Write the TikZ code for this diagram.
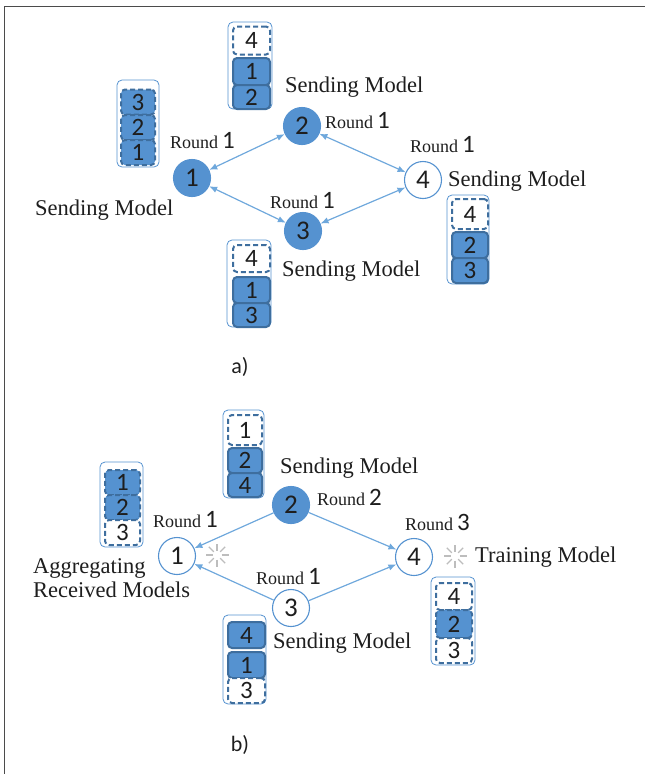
\documentclass[tikz,border=0pt]{standalone}
\usepackage{fontspec}
\setmainfont{Liberation Serif}
\newfontfamily\digitfont{Carlito}
\usetikzlibrary{arrows.meta}
\definecolor{fillblue}{HTML}{5592D0}
\definecolor{boxblue}{HTML}{3E6E9E}
\definecolor{edgeblue}{HTML}{6FA8DC}
\definecolor{ink}{HTML}{1E1E1E}
\definecolor{spark}{HTML}{BDBDBD}
\newcommand\rnd[1]{Round\hspace{4pt}{\digitfont\fontsize{25}{25}\selectfont #1}}
\begin{document}
\begin{tikzpicture}[x=1pt,y=-1pt,
  peer/.style={circle, draw=fillblue, line width=1.1pt, minimum size=37pt, inner sep=0pt,
    font=\digitfont\fontsize{27}{27}\selectfont, text=ink},
  peerfull/.style={peer, fill=fillblue},
  holder/.style={draw=fillblue, line width=0.8pt, rounded corners=5pt, fill=white, inner sep=0pt},
  slot/.style={draw=boxblue, line width=2pt, rounded corners=4pt, inner sep=0pt,
    font=\digitfont\fontsize{25}{25}\selectfont, text=ink},
  slotfull/.style={slot, fill=fillblue},
  slotdash/.style={slot, dash pattern=on 5pt off 3pt, fill=white},
  slotdashfull/.style={slot, dash pattern=on 5pt off 3pt, fill=fillblue},
  caption/.style={font=\fontsize{22.5}{26}\selectfont, text=ink, inner sep=0pt, anchor=base west},
  roundlbl/.style={font=\fontsize{18}{20}\selectfont, text=ink, inner sep=0pt, anchor=base west},
  panel/.style={font=\digitfont\fontsize{22}{22}\selectfont, text=ink},
  link/.style={draw=edgeblue, line width=1.2pt, -{Latex[length=8pt,width=6.5pt]}},
  duplex/.style={link, {Latex[length=8pt,width=6.5pt]}-{Latex[length=8pt,width=6.5pt]}},
  ray/.style={draw=spark, line width=1.3pt}
]
\useasboundingbox (0,0) rectangle (645,774);
% page frame
\draw[ink!80, line width=1pt] (4,774) -- (4,6) -- (645,6);

% ---------------- panel a ----------------
\node[peerfull] (a1) at (192,178) {1};
\node[peerfull] (a2) at (302,126) {2};
\node[peerfull] (a3) at (303,231) {3};
\node[peer]     (a4) at (423,180) {4};

\draw[duplex] (a1) -- (a2);
\draw[duplex] (a2) -- (a4);
\draw[duplex] (a1) -- (a3);
\draw[duplex] (a3) -- (a4);

\node[roundlbl] (ra1) at (170,148) {\rnd{1}};
\node[roundlbl] (ra2) at (325,128) {\rnd{1}};
\node[roundlbl] (ra3) at (270,208) {\rnd{1}};
\node[roundlbl] (ra4) at (410,152) {\rnd{1}};

\node[caption] (sa1) at (35,215) {Sending Model};
\node[caption] (sa2) at (285,92) {Sending Model};
\node[caption] (sa4) at (448,186) {Sending Model};
\node[caption] (sa3) at (282,276) {Sending Model};

% model stacks of panel a
\node[holder, minimum width=42pt, minimum height=87pt] (ha1) at (138,123.5) {};
\node[slotdashfull, minimum width=34pt, minimum height=25pt] (ha1c) at (138,102) {3};
\node[slotdashfull, minimum width=34pt, minimum height=25pt] (ha1b) at (138,127.5) {2};
\node[slotdashfull, minimum width=34pt, minimum height=25pt] (ha1a) at (138,152.5) {1};

\node[holder, minimum width=44pt, minimum height=87pt] (ha2) at (250,65.5) {};
\node[slotdash, minimum width=37pt, minimum height=28pt] (ha2a) at (251.5,40.5) {4};
\node[slotfull, minimum width=37pt, minimum height=27pt] (ha2b) at (251.5,71.5) {1};
\node[slotfull, minimum width=37pt, minimum height=24pt] (ha2c) at (251.5,97) {2};

\node[holder, minimum width=42pt, minimum height=89pt] (ha4) at (468,239.5) {};
\node[slotdash, minimum width=36pt, minimum height=30pt] (ha4a) at (470,214) {4};
\node[slotfull, minimum width=36pt, minimum height=26pt] (ha4b) at (470,245) {2};
\node[slotfull, minimum width=36pt, minimum height=25pt] (ha4c) at (470,270.5) {3};

\node[holder, minimum width=44pt, minimum height=87pt] (ha3) at (249,283.5) {};
\node[slotdash, minimum width=37pt, minimum height=27pt] (ha3a) at (251.5,258.5) {4};
\node[slotfull, minimum width=37pt, minimum height=26pt] (ha3b) at (251.5,290) {1};
\node[slotfull, minimum width=37pt, minimum height=24pt] (ha3c) at (251.5,315) {3};

\node[panel] (pa) at (240,367) {a)};

% ---------------- panel b ----------------
\node[peer]     (b1) at (177,556) {1};
\node[peerfull] (b2) at (291,505) {2};
\node[peer]     (b3) at (291,608) {3};
\node[peer]     (b4) at (414,557) {4};

\draw[link] (b2) -- (b1);
\draw[link] (b2) -- (b4);
\draw[link] (b3) -- (b1);
\draw[link] (b3) -- (b4);

% training sparkles
\foreach \c in {(217,555),(455,556)}{
  \foreach \a in {0,45,...,315}{
    \draw[ray] \c ++(\a:4.5) -- ++(\a:7);
  }
}

\node[roundlbl] (rb1) at (153,527) {\rnd{1}};
\node[roundlbl] (rb2) at (317,505) {\rnd{2}};
\node[roundlbl] (rb4) at (405,530) {\rnd{3}};
\node[roundlbl] (rb3) at (256,584) {\rnd{1}};

\node[caption] (sb2) at (280,473) {Sending Model};
\node[caption] (sb3) at (273,648) {Sending Model};
\node[caption] (sb4) at (475,562) {Training Model};
\node[caption] (sb1a) at (33,573) {Aggregating};
\node[caption] (sb1b) at (33,597) {Received Models};

% model stacks of panel b
\node[holder, minimum width=43pt, minimum height=85pt] (hb1) at (121.5,504.5) {};
\node[slotdashfull, minimum width=35pt, minimum height=25pt] (hb1a) at (122.5,482.5) {1};
\node[slotdashfull, minimum width=35pt, minimum height=25pt] (hb1b) at (122.5,507.5) {2};
\node[slotdash, minimum width=35pt, minimum height=25pt] (hb1c) at (122.5,532.5) {3};

\node[holder, minimum width=41pt, minimum height=88pt] (hb2) at (243.5,454) {};
\node[slotdash, minimum width=34pt, minimum height=30pt] (hb2a) at (245,430) {1};
\node[slotfull, minimum width=34pt, minimum height=25pt] (hb2b) at (245,460.5) {2};
\node[slotfull, minimum width=34pt, minimum height=24pt] (hb2c) at (245,485) {4};

\node[holder, minimum width=44pt, minimum height=88pt] (hb4) at (453,621) {};
\node[slotdash, minimum width=36pt, minimum height=27pt] (hb4a) at (454,596.5) {4};
\node[slotdashfull, minimum width=36pt, minimum height=28pt] (hb4b) at (454,624) {2};
\node[slotdash, minimum width=36pt, minimum height=25pt] (hb4c) at (454,650.5) {3};

\node[holder, minimum width=43pt, minimum height=89pt] (hb3) at (244.5,659.5) {};
\node[slotfull, minimum width=37pt, minimum height=26pt] (hb3a) at (246.5,635) {4};
\node[slotfull, minimum width=37pt, minimum height=26pt] (hb3b) at (246.5,665) {1};
\node[slotdash, minimum width=37pt, minimum height=25pt] (hb3c) at (246.5,690.5) {3};

\node[panel] (pb) at (240,745) {b)};
\end{tikzpicture}
\end{document}
